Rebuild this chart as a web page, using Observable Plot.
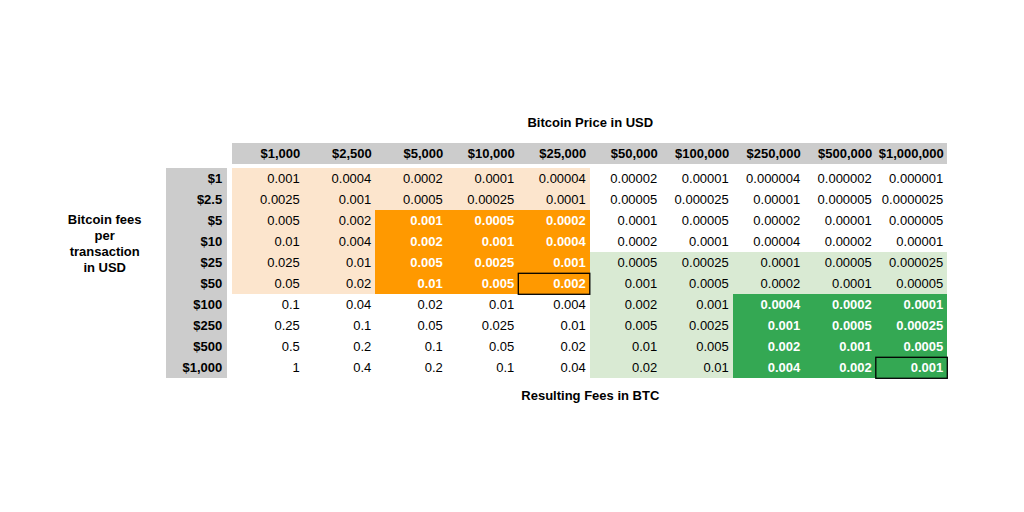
<!DOCTYPE html>
<html>
<head>
<meta charset="utf-8">
<script src="https://cdn.jsdelivr.net/npm/d3@7"></script>
<script src="https://cdn.jsdelivr.net/npm/@observablehq/plot@0.6"></script>
<style>
  html, body { margin: 0; padding: 0; background: #ffffff; }
  #chart svg { display: block; }
</style>
</head>
<body>
<div id="chart"></div>
<script>
// Column headers: Bitcoin price in USD
const prices = ["$1,000", "$2,500", "$5,000", "$10,000", "$25,000", "$50,000", "$100,000", "$250,000", "$500,000", "$1,000,000"];
// Row headers: Bitcoin fees per transaction in USD
const fees = ["$1", "$2.5", "$5", "$10", "$25", "$50", "$100", "$250", "$500", "$1,000"];
// Resulting fees in BTC (rows = fees, columns = prices)
const btcFees = [
  ["0.001", "0.0004", "0.0002", "0.0001", "0.00004", "0.00002", "0.00001", "0.000004", "0.000002", "0.000001"],
  ["0.0025", "0.001", "0.0005", "0.00025", "0.0001", "0.00005", "0.000025", "0.00001", "0.000005", "0.0000025"],
  ["0.005", "0.002", "0.001", "0.0005", "0.0002", "0.0001", "0.00005", "0.00002", "0.00001", "0.000005"],
  ["0.01", "0.004", "0.002", "0.001", "0.0004", "0.0002", "0.0001", "0.00004", "0.00002", "0.00001"],
  ["0.025", "0.01", "0.005", "0.0025", "0.001", "0.0005", "0.00025", "0.0001", "0.00005", "0.000025"],
  ["0.05", "0.02", "0.01", "0.005", "0.002", "0.001", "0.0005", "0.0002", "0.0001", "0.00005"],
  ["0.1", "0.04", "0.02", "0.01", "0.004", "0.002", "0.001", "0.0004", "0.0002", "0.0001"],
  ["0.25", "0.1", "0.05", "0.025", "0.01", "0.005", "0.0025", "0.001", "0.0005", "0.00025"],
  ["0.5", "0.2", "0.1", "0.05", "0.02", "0.01", "0.005", "0.002", "0.001", "0.0005"],
  ["1", "0.4", "0.2", "0.1", "0.04", "0.02", "0.01", "0.004", "0.002", "0.001"]
];
// Highlight zones per cell: a = light orange, A = orange, g = light green, G = green, - = none
const zones = [
  ["a","a","a","a","a","-","-","-","-","-"],
  ["a","a","a","a","a","-","-","-","-","-"],
  ["a","a","A","A","A","-","-","-","-","-"],
  ["a","a","A","A","A","-","-","-","-","-"],
  ["a","a","A","A","A","g","g","g","g","g"],
  ["a","a","A","A","A","g","g","g","g","g"],
  ["-","-","-","-","-","g","g","G","G","G"],
  ["-","-","-","-","-","g","g","G","G","G"],
  ["-","-","-","-","-","g","g","G","G","G"],
  ["-","-","-","-","-","g","g","G","G","G"]
];
const zoneColors = { a: "#fce5cd", A: "#ff9900", g: "#d9ead3", G: "#34a853" };
const boldZones = ["A", "G"];
// Outlined cells
const outlined = [
  { fee: "$50", price: "$25,000" },
  { fee: "$1,000", price: "$1,000,000" }
];
const titleTop = "Bitcoin Price in USD";
const titleBottom = "Resulting Fees in BTC";
const titleLeft = "Bitcoin fees\nper\ntransaction\nin USD";

const HDR = "hdr";
const cells = [];
fees.forEach((f, i) => prices.forEach((p, j) => {
  cells.push({ fee: f, price: p, label: btcFees[i][j], zone: zones[i][j] });
}));

const font = "Liberation Sans, Arial, Helvetica, sans-serif";
const mL = 160.8, mR = 76.7, mT = 147.3, mB = 133.7;
const colW = (1024 - mL - mR) / 11;

const chart = Plot.plot({
  width: 1024,
  height: 512,
  marginLeft: mL,
  marginRight: mR,
  marginTop: mT,
  marginBottom: mB,
  style: { fontFamily: font, background: "#ffffff" },
  x: { type: "band", domain: [HDR, ...prices], padding: 0, round: false, axis: null },
  y: { type: "band", domain: [HDR, ...fees], padding: 0, round: false, axis: null },
  color: { type: "identity" },
  marks: [
    // header backgrounds
    Plot.cell(prices, { x: d => d, y: () => HDR, fill: "#cccccc", insetTop: -4.6, insetBottom: 4, shapeRendering: "crispEdges" }),
    Plot.cell(fees, { x: () => HDR, y: d => d, fill: "#cccccc", insetLeft: 4.9, insetRight: 5, shapeRendering: "crispEdges" }),
    // zone fills
    Plot.cell(cells.filter(d => d.zone !== "-"), { x: "price", y: "fee", fill: d => zoneColors[d.zone], shapeRendering: "crispEdges" }),
    // outlined cells
    Plot.cell(outlined, { x: "price", y: "fee", fill: "none", stroke: "#000000", strokeWidth: 1.3 }),
    // header labels
    Plot.text(prices, { x: d => d, y: () => HDR, text: d => d, textAnchor: "end", dx: colW / 2 - 4, dy: -4.3, fontWeight: "bold", fontSize: 13, fill: "#000000" }),
    Plot.text(fees, { x: () => HDR, y: d => d, text: d => d, textAnchor: "end", dx: colW / 2 - 10.6, fontWeight: "bold", fontSize: 13, fill: "#000000" }),
    // values
    Plot.text(cells.filter(d => !boldZones.includes(d.zone)), { x: "price", y: "fee", text: "label", textAnchor: "end", dx: colW / 2 - 4.5, fontSize: 13, fill: "#000000" }),
    Plot.text(cells.filter(d => boldZones.includes(d.zone)), { x: "price", y: "fee", text: "label", textAnchor: "end", dx: colW / 2 - 4.5, fontSize: 13, fontWeight: "bold", fill: "#ffffff" }),
    // titles
    Plot.text([titleTop], { frameAnchor: "top", lineAnchor: "middle", dx: colW / 2, dy: -24.8, text: d => d, fontWeight: "bold", fontSize: 13, fill: "#000000" }),
    Plot.text([titleBottom], { frameAnchor: "bottom", lineAnchor: "middle", dx: colW / 2, dy: 16.7, text: d => d, fontWeight: "bold", fontSize: 13, fill: "#000000" }),
    Plot.text([titleLeft], { frameAnchor: "left", dx: -56.6, dy: -20.3, text: d => d, textAnchor: "middle", lineHeight: 1.24, fontWeight: "bold", fontSize: 13, fill: "#000000" })
  ]
});
document.getElementById("chart").appendChild(chart);
</script>
</body>
</html>
